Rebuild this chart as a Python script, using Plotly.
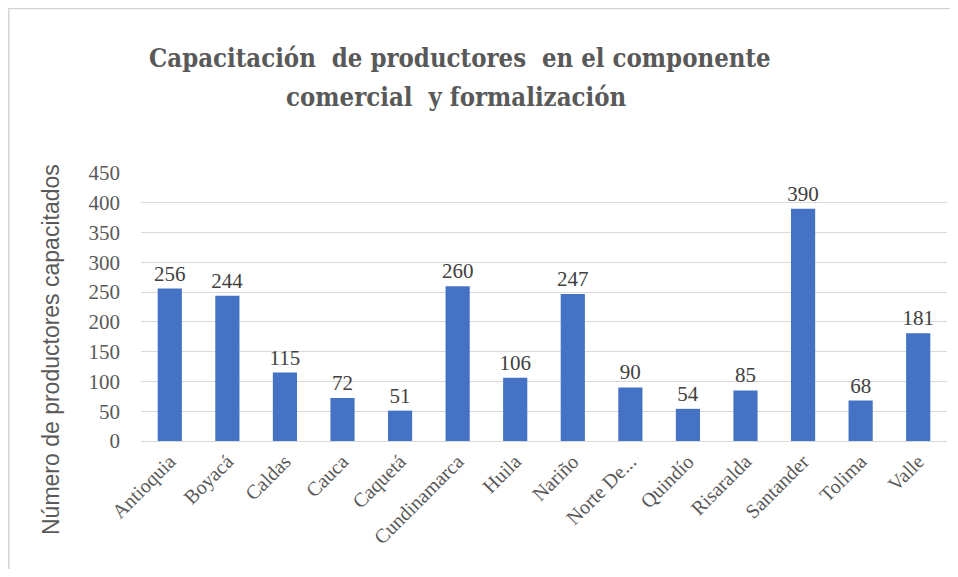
import plotly.graph_objects as go

departamentos = ["Antioquia", "Boyacá", "Caldas", "Cauca", "Caquetá", "Cundinamarca",
                 "Huila", "Nariño", "Norte De...", "Quindío", "Risaralda", "Santander",
                 "Tolima", "Valle"]
capacitados = [256, 244, 115, 72, 51, 260, 106, 247, 90, 54, 85, 390, 68, 181]
y_ticks = [0, 50, 100, 150, 200, 250, 300, 350, 400, 450]
titulo = ["Capacitación  de productores  en el componente", "comercial  y formalización"]

OFF = 8  # page body margin
W, H = 958 - 2 * OFF, 577 - 2 * OFF
PX0, PX1, PY0, PY1 = 141, 947, 173, 441
L, R, T, B = PX0 - OFF, W - (PX1 - OFF), PY0 - OFF, H - (PY1 - OFF)
pw, ph = W - L - R, H - T - B

def px_x(x):
    return (x - OFF - L) / pw

def px_y(y):
    return (PY1 - y) / ph

gray = "#595959"
serif = "Times New Roman"
title_font = "DejaVu Serif Condensed"

fig = go.Figure(go.Bar(
    x=departamentos, y=capacitados,
    marker=dict(color="#4472C4", line=dict(width=0)),
    text=[str(v) for v in capacitados], textposition="outside",
    textfont=dict(family=serif, size=21, color="#404040"),
    constraintext="none",
    cliponaxis=False, width=0.42,
))

annots = [dict(
    text="Número de productores capacitados", textangle=-90,
    xref="paper", yref="paper", x=px_x(51), y=px_y(350),
    xanchor="center", yanchor="middle", showarrow=False,
    font=dict(family="Liberation Sans", size=23, color=gray),
)]
annots.append(dict(
    text="<b>" + titulo[0] + "</b>", xref="paper", yref="paper",
    x=px_x(460), y=px_y(58), xanchor="center", yanchor="middle", showarrow=False,
    font=dict(family=title_font, size=25.5, color=gray),
))
annots.append(dict(
    text="<b>" + titulo[1] + "</b>", xref="paper", yref="paper",
    x=px_x(456), y=px_y(97), xanchor="center", yanchor="middle", showarrow=False,
    font=dict(family=title_font, size=25.5, color=gray),
))

fig.update_layout(
    width=W, height=H,
    margin=dict(l=L, r=R, t=T, b=B),
    paper_bgcolor="white", plot_bgcolor="white",
    showlegend=False,
    font=dict(family=serif, color=gray),
    xaxis=dict(
        tickangle=-45, tickfont=dict(family=serif, size=20, color=gray),
        showgrid=False, showline=True, linecolor="#d9d9d9", linewidth=1,
        ticks="", range=[-0.5, len(departamentos) - 0.5],
    ),
    yaxis=dict(
        range=[0, 450], tickvals=y_ticks,
        tickfont=dict(family=serif, size=21, color=gray),
        showgrid=True, gridcolor="#d9d9d9", gridwidth=1,
        zeroline=False, showline=False, ticks="", ticklabelstandoff=20,
    ),
    annotations=annots,
    shapes=[
        dict(type="line", xref="paper", yref="paper",
             x0=px_x(8), x1=px_x(970), y0=px_y(8.5), y1=px_y(8.5),
             line=dict(color="#d4d4d4", width=1.5)),
        dict(type="line", xref="paper", yref="paper",
             x0=px_x(8.8), x1=px_x(8.8), y0=px_y(8), y1=px_y(590),
             line=dict(color="#d4d4d4", width=1.5)),
    ],
)

fig.write_html("out.html")
